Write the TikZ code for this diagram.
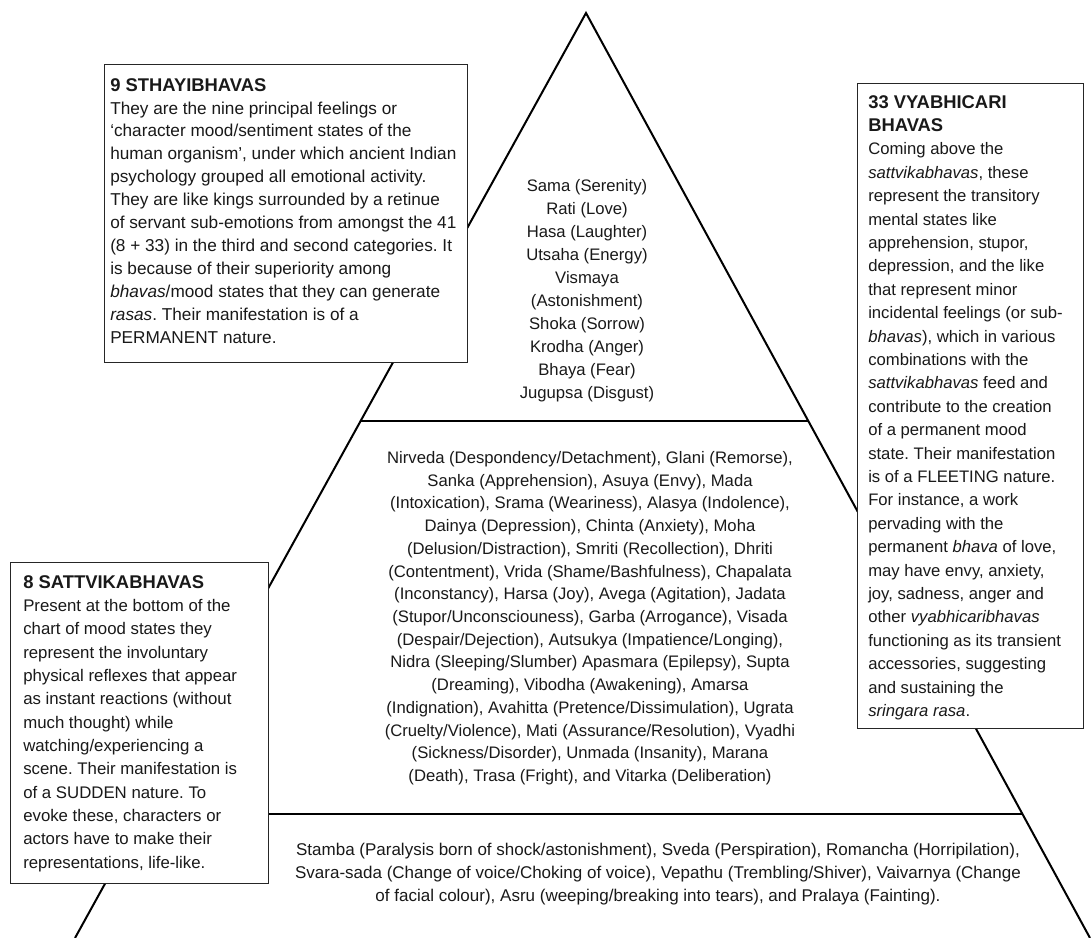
\documentclass[tikz,border=0pt]{standalone}
\usepackage{fontspec}
\setmainfont{Liberation Sans}
\usetikzlibrary{calc}
\newcommand{\ttl}[1]{{\fontsize{13.8}{17.2}\selectfont\bfseries #1}}
\begin{document}
\frenchspacing
\begin{tikzpicture}[x=0.75pt,y=-0.75pt,
  tri/.style={line width=1.5pt, draw=black},
  box/.style={draw=black!85, line width=0.95pt, fill=white, inner sep=0pt, anchor=north west},
  txt/.style={inner sep=0pt, anchor=north west, align=left, text=black!90},
  ctxt/.style={inner sep=0pt, anchor=north, align=center, text=black!90}
]
\path[use as bounding box, clip] (0,0) rectangle (1092,938);
% triangle
\coordinate (A) at (586,13);
\coordinate (L) at (75,938);
\coordinate (R) at (1090,938);
\coordinate (d1l) at ($(A)!0.441!(L)$);
\coordinate (d1r) at ($(A)!0.441!(R)$);
\coordinate (d2l) at ($(A)!0.866!(L)$);
\coordinate (d2r) at ($(A)!0.866!(R)$);
\draw[tri] (L) -- (A) -- (R);
\draw[tri] (d1l) -- (d1r);
\draw[tri] (d2l) -- (d2r);
% level texts
\node[ctxt, font=\fontsize{12.5}{17.25}\selectfont] (top) at (587,179) {Sama (Serenity)\\Rati (Love)\\Hasa (Laughter)\\Utsaha (Energy)\\Vismaya\\(Astonishment)\\Shoka (Sorrow)\\Krodha (Anger)\\Bhaya (Fear)\\Jugupsa (Disgust)};
\node[ctxt, font=\fontsize{12.5}{17.05}\selectfont] (mid) at (590,451) {Nirveda (Despondency/Detachment), Glani (Remorse),\\
Sanka (Apprehension), Asuya (Envy), Mada\\
(Intoxication), Srama (Weariness), Alasya (Indolence),\\
Dainya (Depression), Chinta (Anxiety), Moha\\
(Delusion/Distraction), Smriti (Recollection), Dhriti\\
(Contentment), Vrida (Shame/Bashfulness), Chapalata\\
(Inconstancy), Harsa (Joy), Avega (Agitation), Jadata\\
(Stupor/Unconsciouness), Garba (Arrogance), Visada\\
(Despair/Dejection), Autsukya (Impatience/Longing),\\
Nidra (Sleeping/Slumber) Apasmara (Epilepsy), Supta\\
(Dreaming), Vibodha (Awakening), Amarsa\\
(Indignation), Avahitta (Pretence/Dissimulation), Ugrata\\
(Cruelty/Violence), Mati (Assurance/Resolution), Vyadhi\\
(Sickness/Disorder), Unmada (Insanity), Marana\\
(Death), Trasa (Fright), and Vitarka (Deliberation)};
\node[ctxt, font=\fontsize{12.75}{17.1}\selectfont] (bot) at (658,843) {Stamba (Paralysis born of shock/astonishment), Sveda (Perspiration), Romancha (Horripilation),\\
Svara-sada (Change of voice/Choking of voice), Vepathu (Trembling/Shiver), Vaivarnya (Change\\
of facial colour), Asru (weeping/breaking into tears), and Pralaya (Fainting).};
% boxes
\node[box, minimum width=272.25pt, minimum height=223.5pt] (b1) at (104,64) {};
\node[txt, font=\fontsize{12.9}{17.2}\selectfont] (t1) at (110,78) {\ttl{9 STHAYIBHAVAS}\\
They are the nine principal feelings or\\
`character mood/sentiment states of the\\
human organism', under which ancient Indian\\
psychology grouped all emotional activity.\\
They are like kings surrounded by a retinue\\
of servant sub-emotions from amongst the 41\\
(8 + 33) in the third and second categories. It\\
is because of their superiority among\\
\textit{bhavas}/mood states that they can generate\\
\textit{rasas}. Their manifestation is of a\\
PERMANENT nature.};
\node[box, minimum width=169.5pt, minimum height=483.75pt] (b2) at (857,83) {};
\node[txt, font=\fontsize{12.5}{17.55}\selectfont] (t2) at (868,95) {\ttl{33 VYABHICARI}\\
\ttl{BHAVAS}\\
Coming above the\\
\textit{sattvikabhavas}, these\\
represent the transitory\\
mental states like\\
apprehension, stupor,\\
depression, and the like\\
that represent minor\\
incidental feelings (or sub-\\
\textit{bhavas}), which in various\\
combinations with the\\
\textit{sattvikabhavas} feed and\\
contribute to the creation\\
of a permanent mood\\
state. Their manifestation\\
is of a FLEETING nature.\\
For instance, a work\\
pervading with the\\
permanent \textit{bhava} of love,\\
may have envy, anxiety,\\
joy, sadness, anger and\\
other \textit{vyabhicaribhavas}\\
functioning as its transient\\
accessories, suggesting\\
and sustaining the\\
\textit{sringara rasa}.};
\node[box, minimum width=193.5pt, minimum height=240.75pt] (b3) at (10,562) {};
\node[txt, font=\fontsize{12.6}{17.5}\selectfont] (t3) at (23,575) {\ttl{8 SATTVIKABHAVAS}\\
Present at the bottom of the\\
chart of mood states they\\
represent the involuntary\\
physical reflexes that appear\\
as instant reactions (without\\
much thought) while\\
watching/experiencing a\\
scene. Their manifestation is\\
of a SUDDEN nature. To\\
evoke these, characters or\\
actors have to make their\\
representations, life-like.};
\end{tikzpicture}
\end{document}
